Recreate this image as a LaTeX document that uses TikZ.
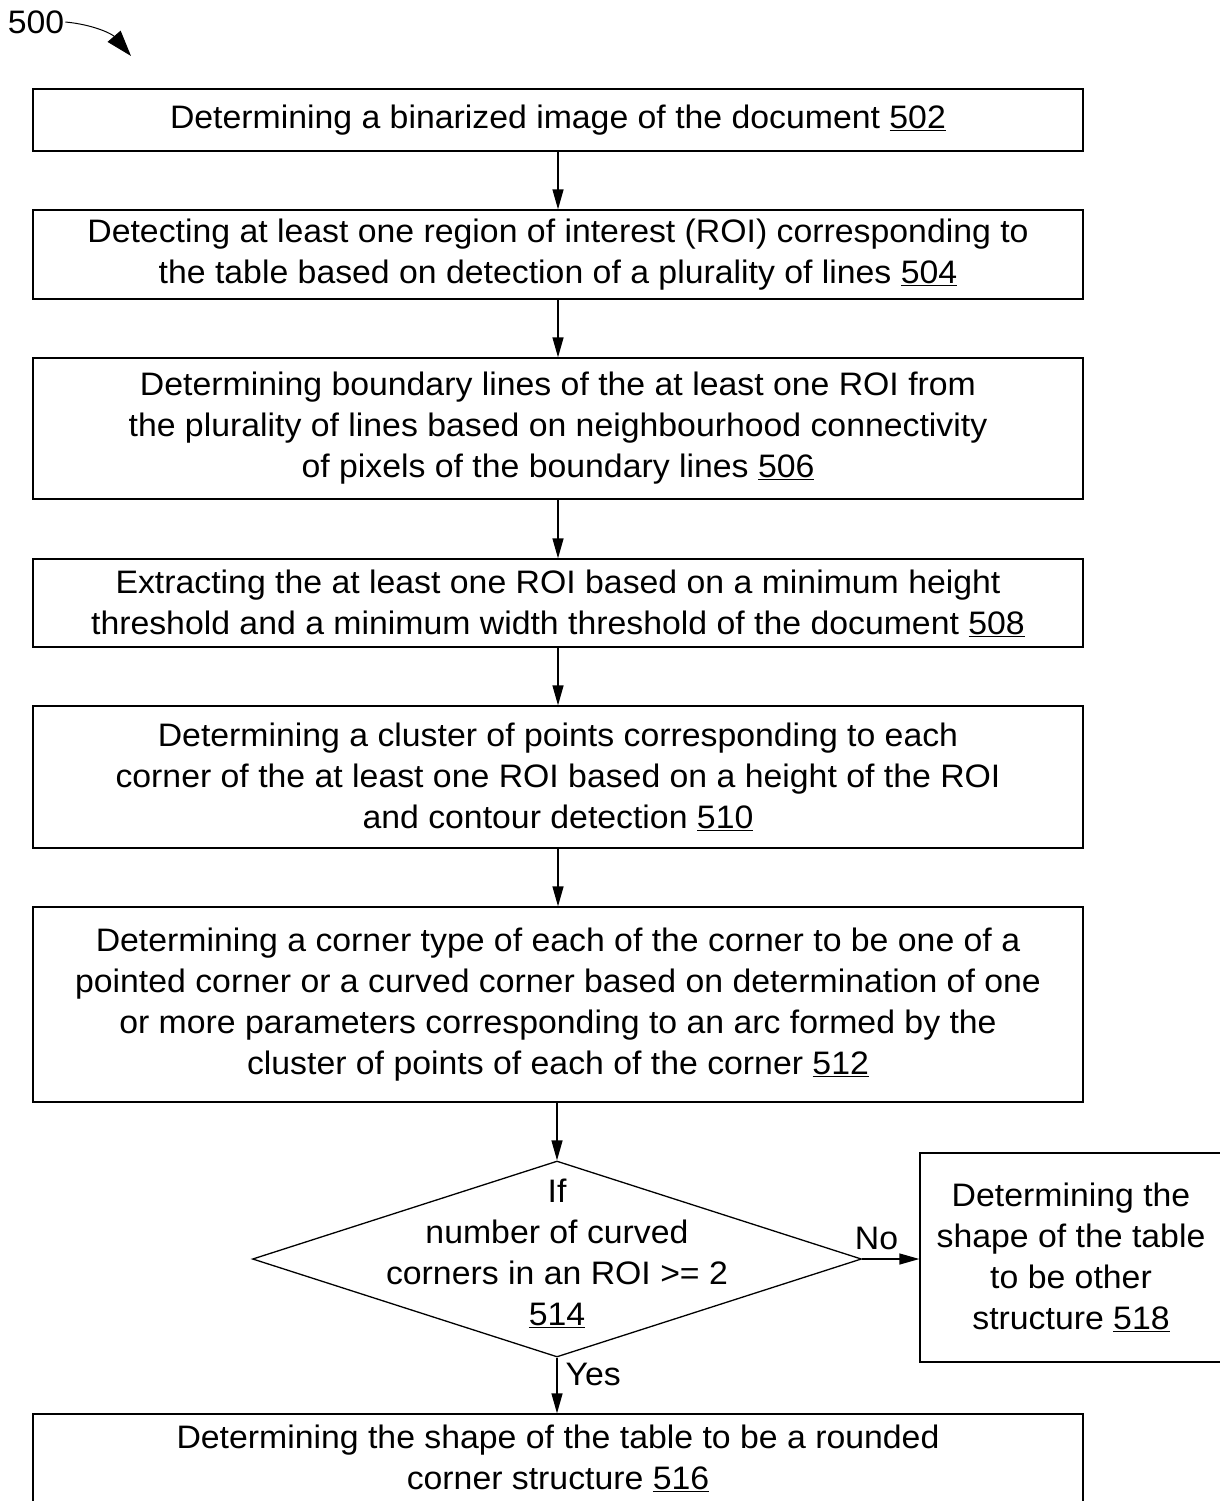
\documentclass[tikz,border=0pt]{standalone}
\usepackage{fontspec}
\setmainfont{Liberation Sans}[FakeStretch=1.04]
\usetikzlibrary{shapes.geometric,arrows.meta}
\begin{document}
\begin{tikzpicture}[x=1pt,y=-1pt,
  every node/.style={font=\fontsize{32.5}{41}\selectfont},
  stepbox/.style={draw,line width=1.3pt,minimum width=1050pt,align=center,inner sep=0pt},
  conn/.style={line width=1.3pt,-{Triangle[length=20pt,width=11pt]}},
  decision/.style={draw,diamond,line width=1.3pt,minimum width=609pt,minimum height=196pt,inner sep=0pt,align=center}
]
\useasboundingbox (0,0) rectangle (1220,1501);
\node[stepbox,minimum height=62pt] (b502) at (558,120) {Determining a binarized image of the document \underline{502}};
\node[stepbox,minimum height=89pt] (b504) at (558,254.5) {Detecting at least one region of interest (ROI) corresponding to\\the table based on detection of a plurality of lines \underline{504}};
\node[stepbox,minimum height=141pt] (b506) at (558,428.5) {Determining boundary lines of the at least one ROI from\\the plurality of lines based on neighbourhood connectivity\\of pixels of the boundary lines \underline{506}};
\node[stepbox,minimum height=88pt] (b508) at (558,603) {Extracting the at least one ROI based on a minimum height\\threshold and a minimum width threshold of the document \underline{508}};
\node[stepbox,minimum height=142pt] (b510) at (558,777) {Determining a cluster of points corresponding to each\\corner of the at least one ROI based on a height of the ROI\\and contour detection \underline{510}};
\node[stepbox,minimum height=195pt] (b512) at (558,1004.5) {Determining a corner type of each of the corner to be one of a\\pointed corner or a curved corner based on determination of one\\or more parameters corresponding to an arc formed by the\\cluster of points of each of the corner \underline{512}};
\node[decision] (d514) at (557,1259) {};
\node[align=center,inner sep=0pt] (t514) at (557,1253) {If\\number of curved\\corners in an ROI >= 2\\\underline{514}};
\node[stepbox,minimum width=302pt,minimum height=209pt] (b518) at (1071,1257.5) {Determining the\\shape of the table\\to be other\\structure \underline{518}};
\node[stepbox,minimum height=89pt] (b516) at (558,1458.5) {Determining the shape of the table to be a rounded\\corner structure \underline{516}};
\node[inner sep=1pt] (l500) at (36,22) {500};
\coordinate (a500) at (131,56);
\draw[line width=1pt,-{Triangle[length=26pt,width=17pt]}] (l500.east) to[bend left=22] (a500);
\draw[conn] (b502) -- (b504);
\draw[conn] (b504) -- (b506);
\draw[conn] (b506) -- (b508);
\draw[conn] (b508) -- (b510);
\draw[conn] (b510) -- (b512);
\draw[conn] (b512.south -| d514.north) -- (d514.north);
\draw[conn] (d514.east) -- (b518.west |- d514.east) node[pos=0.25,above=9pt,inner sep=0pt] (no) {No};
\draw[conn] (d514.south) -- (b516.north -| d514.south) node[pos=0.3,right=8pt,inner sep=0pt] (yes) {Yes};
\end{tikzpicture}
\end{document}
